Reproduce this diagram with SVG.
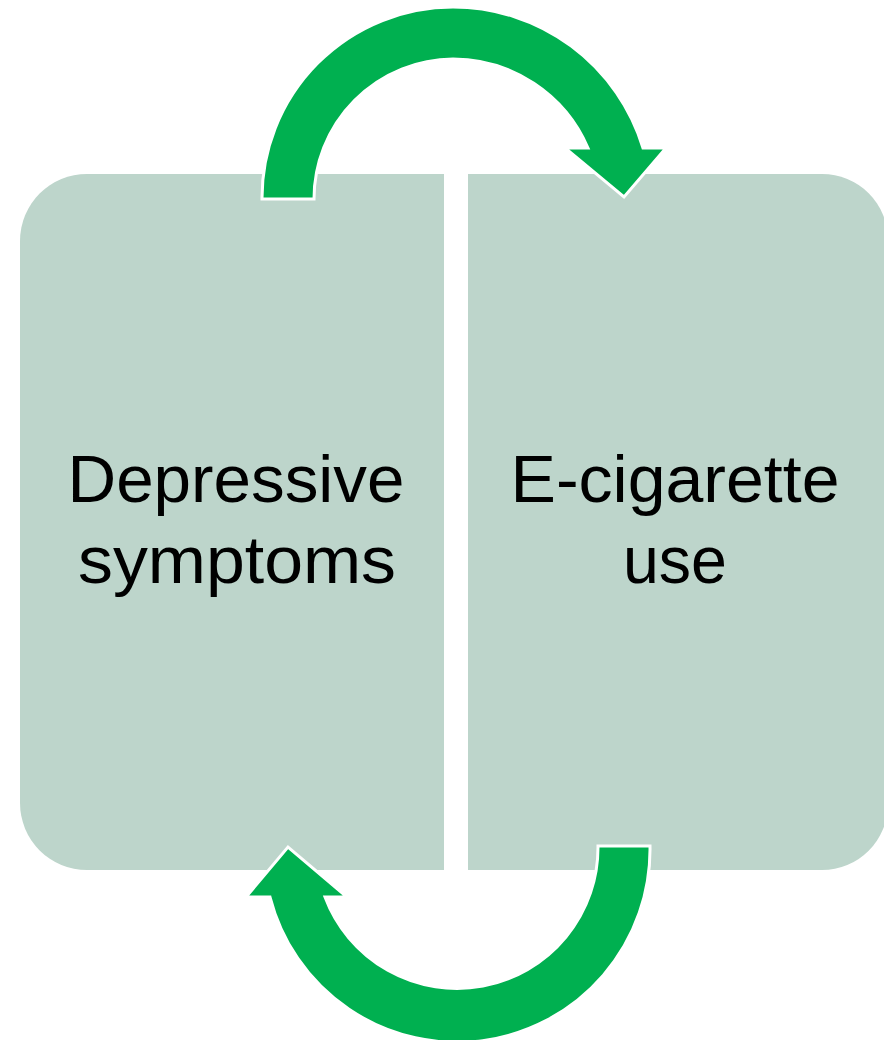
<svg xmlns="http://www.w3.org/2000/svg" width="884" height="1040" viewBox="0 0 884 1040">
<style>
.box{fill:#BDD5CB}
.arrow{fill:#00B050;stroke:#FFFFFF;stroke-width:3;stroke-linejoin:miter}
.label{font-family:"Liberation Sans",Arial,sans-serif;font-size:67px;fill:#000000;text-anchor:middle}
</style>
<rect width="884" height="1040" fill="#FFFFFF"/>
<g id="node-depressive">
<path class="box" d="M 87 174 L 444 174 L 444 870 L 87 870 A 67 67 0 0 1 20 803 L 20 241 A 67 67 0 0 1 87 174 Z"/>
<text class="label" x="236" y="502" textLength="337" lengthAdjust="spacingAndGlyphs">Depressive</text>
<text class="label" x="237" y="583" textLength="318" lengthAdjust="spacingAndGlyphs">symptoms</text>
</g>
<g id="node-ecig">
<path class="box" d="M 468 174 L 822 174 A 66 66 0 0 1 888 240 L 888 804 A 66 66 0 0 1 822 870 L 468 870 Z"/>
<text class="label" x="675" y="502" textLength="329" lengthAdjust="spacingAndGlyphs">E-cigarette</text>
<text class="label" x="675" y="583" textLength="104" lengthAdjust="spacingAndGlyphs">use</text>
</g>
<g id="connectors">
<path class="arrow" d="M 262 199 A 191 191 0 0 1 453 7 A 198.5 198.5 0 0 1 643 148 L 666 148 L 624 197 L 565 148 L 588 148 A 147 147 0 0 0 453 59 A 140 140 0 0 0 314 199 Z"/>
<path class="arrow" d="M 598 846 L 650 846 A 193 193 0 0 1 270 897 L 246 897 L 288 847 L 347 897 L 325 897 A 141 141 0 0 0 598 846 Z"/>
</g>
</svg>
